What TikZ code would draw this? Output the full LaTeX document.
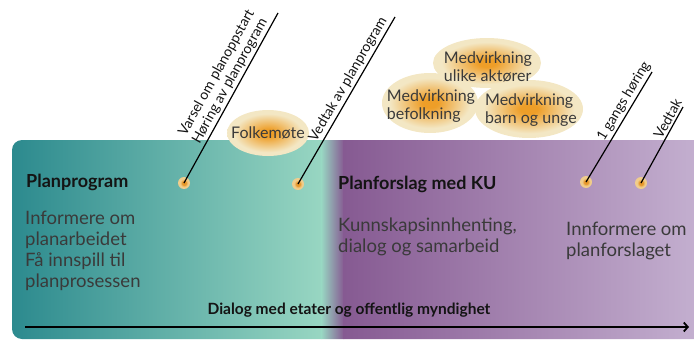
\documentclass[tikz,border=0pt]{standalone}
\usepackage{fontspec}
\setmainfont{Lato}
\usetikzlibrary{shapes.geometric,arrows.meta}
\definecolor{tealA}{RGB}{44,138,142}
\definecolor{tealB}{RGB}{152,214,194}
\definecolor{purpA}{RGB}{134,90,146}
\definecolor{purpB}{RGB}{196,176,208}
\definecolor{glowcore}{RGB}{238,158,40}
\definecolor{glowedge}{RGB}{243,231,196}
\definecolor{dotcore}{RGB}{230,150,40}
\definecolor{dothalo}{RGB}{240,205,140}
\definecolor{headc}{RGB}{20,20,20}
\definecolor{bodyc}{RGB}{58,58,58}
\pgfdeclareradialshading{glow}{\pgfpoint{0bp}{0bp}}{color(0bp)=(glowcore); color(4bp)=(glowcore); color(21bp)=(glowedge); color(25bp)=(glowedge); color(50bp)=(glowedge)}
\pgfdeclareradialshading{dotglow}{\pgfpoint{0bp}{0bp}}{color(0bp)=(dotcore); color(8bp)=(dotcore); color(16bp)=(dothalo); color(25bp)=(dothalo); color(50bp)=(dothalo)}
\tikzset{
  head/.style={font=\fontsize{18}{20}\selectfont\bfseries, text=headc, inner sep=0pt},
  body/.style={font=\fontsize{18.5}{20.8}\selectfont, text=bodyc, align=left, inner sep=0pt},
  bubble/.style={ellipse, shading=glow, inner sep=0pt},
  btext/.style={align=left, text=bodyc, font=\fontsize{16}{17.5}\selectfont, inner sep=0pt},
  glowdot/.style={circle, shading=dotglow, minimum size=12pt, inner sep=0pt},
  conn/.style={line width=1.2pt, black},
  lbl/.style={font=\fontsize{14}{15.5}\selectfont, text=headc, align=left, inner sep=2pt}
}
\begin{document}
\begin{tikzpicture}[x=1pt,y=-1pt]
\useasboundingbox (0,0) rectangle (694,340);
% main band
\begin{scope}
  \clip[rounded corners=10pt] (12,140) rectangle (720,339);
  \shade[left color=tealA, right color=tealB] (12,140) rectangle (322,340);
  \shade[left color=tealB, right color=purpA] (321.5,140) rectangle (344,340);
  \shade[left color=purpA, right color=purpB] (343.5,140) rectangle (700,340);
\end{scope}
% bubbles
\node[bubble, minimum width=82pt, minimum height=46pt] (folk) at (268,133) {};
\node[bubble, minimum width=108pt, minimum height=50pt] (akt) at (487,63) {};
\node[bubble, minimum width=96pt, minimum height=60pt] (bef) at (430,103) {};
\node[bubble, minimum width=108pt, minimum height=58pt] (barn) at (529,109) {};
\node[btext] (folktxt) at (folk) {Folkemøte};
\node[btext] (akttxt) at (488,67) {Medvirkning\\ulike aktører};
\node[btext] (beftxt) at (431,106) {Medvirkning\\befolkning};
\node[btext] (barntxt) at (531,110) {Medvirkning\\barn og unge};
% dots
\node[glowdot] (d1) at (184,183) {};
\node[glowdot] (d2) at (298,184) {};
\node[glowdot] (d3) at (586,182) {};
\node[glowdot] (d4) at (641,183) {};
\coordinate (t1) at (278,13);
\coordinate (t2) at (395,17);
\coordinate (t3) at (652,72);
\coordinate (t4) at (683,107);
\draw[conn] (d1.center) -- (t1) node[pos=0.2, sloped, anchor=south west, lbl] (l1) {Varsel om planoppstart\\Høring av planprogram};
\draw[conn] (d2.center) -- (t2) node[pos=0.22, sloped, anchor=south west, lbl] (l2) {Vedtak av planprogram};
\draw[conn] (d3.center) -- (t3) node[pos=0.32, sloped, anchor=south west, lbl] (l3) {1 gangs høring};
\draw[conn] (d4.center) -- (t4) node[pos=0.52, sloped, anchor=south west, lbl] (l4) {Vedtak};
% texts
\node[head, anchor=base west] (pp) at (26,187) {Planprogram};
\node[body, anchor=base west] (ppb) at (25,287) {Informere om\\planarbeidet\\Få innspill til\\planprosessen};
\node[head, anchor=base west] (pf) at (338,189) {Planforslag med KU};
\node[body, anchor=base west] (pfb) at (338,252) {Kunnskapsinnhenting,\\dialog og samarbeid};
\node[body, anchor=base west] (ipf) at (566,256) {Innformere om\\planforslaget};
\node[font=\fontsize{15.5}{18}\selectfont\bfseries, text=headc, anchor=base, inner sep=0pt] (dlg) at (349,314) {Dialog med etater og offentlig myndighet};
% timeline arrow
\coordinate (as) at (25,327);
\coordinate (ae) at (689,327);
\draw[line width=1.8pt, -{Straight Barb[length=4pt,width=9pt]}] (as) -- (ae);
\end{tikzpicture}
\end{document}
